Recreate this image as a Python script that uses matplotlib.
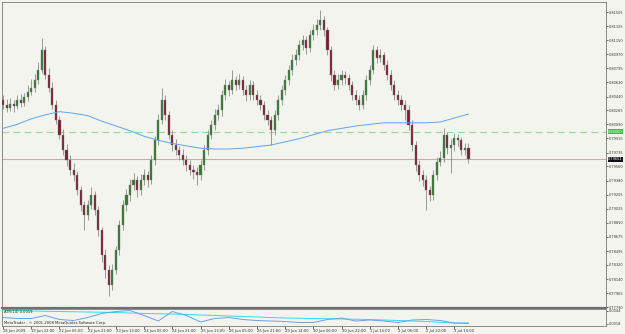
import matplotlib.pyplot as plt
import matplotlib.transforms as mtransforms

# hourly-ish candles (2h per bar)
opens = [0.8040, 0.8034, 0.8030, 0.8035, 0.8032, 0.8040, 0.8036, 0.8043, 0.8050, 0.8055,
         0.8065, 0.8078, 0.8103, 0.8071, 0.8055, 0.8034, 0.8015, 0.7996, 0.7977, 0.7964,
         0.7952, 0.7945, 0.7926, 0.7907, 0.7895, 0.7907, 0.7920, 0.7901, 0.7876, 0.7845,
         0.7826, 0.7807, 0.7826, 0.7851, 0.7882, 0.7907, 0.7920, 0.7933, 0.7939, 0.7926,
         0.7939, 0.7945, 0.7939, 0.7964, 0.7989, 0.8015, 0.8040, 0.8021, 0.7996, 0.7983,
         0.7977, 0.7971, 0.7964, 0.7958, 0.7952, 0.7949, 0.7945, 0.7958, 0.7977, 0.7996,
         0.8008, 0.8021, 0.8027, 0.8046, 0.8059, 0.8052, 0.8065, 0.8059, 0.8065, 0.8052,
         0.8046, 0.8059, 0.8046, 0.8040, 0.8034, 0.8021, 0.8015, 0.8002, 0.8021, 0.8040,
         0.8052, 0.8065, 0.8078, 0.8090, 0.8096, 0.8109, 0.8115, 0.8105, 0.8122, 0.8128,
         0.8134, 0.8140, 0.8128, 0.8103, 0.8071, 0.8059, 0.8065, 0.8071, 0.8067, 0.8059,
         0.8046, 0.8040, 0.8034, 0.8046, 0.8065, 0.8078, 0.8103, 0.8093, 0.8096, 0.8084,
         0.8071, 0.8059, 0.8046, 0.8040, 0.8034, 0.8027, 0.8008, 0.7983, 0.7958, 0.7945,
         0.7939, 0.7926, 0.7920, 0.7945, 0.7962, 0.7967, 0.7996, 0.7979, 0.7983, 0.7992,
         0.7989, 0.7977, 0.7979]
closes = [0.8034, 0.8030, 0.8035, 0.8032, 0.8040, 0.8036, 0.8043, 0.8050, 0.8055, 0.8065,
          0.8078, 0.8103, 0.8071, 0.8055, 0.8034, 0.8015, 0.7996, 0.7977, 0.7964, 0.7952,
          0.7945, 0.7926, 0.7907, 0.7895, 0.7907, 0.7920, 0.7901, 0.7876, 0.7845, 0.7826,
          0.7807, 0.7826, 0.7851, 0.7882, 0.7907, 0.7920, 0.7933, 0.7939, 0.7926, 0.7939,
          0.7945, 0.7939, 0.7964, 0.7989, 0.8015, 0.8040, 0.8021, 0.7996, 0.7983, 0.7977,
          0.7971, 0.7964, 0.7958, 0.7952, 0.7949, 0.7945, 0.7958, 0.7977, 0.7996, 0.8008,
          0.8021, 0.8027, 0.8046, 0.8059, 0.8052, 0.8065, 0.8059, 0.8065, 0.8052, 0.8046,
          0.8059, 0.8046, 0.8040, 0.8034, 0.8021, 0.8015, 0.8002, 0.8021, 0.8040, 0.8052,
          0.8065, 0.8078, 0.8090, 0.8096, 0.8109, 0.8115, 0.8105, 0.8122, 0.8128, 0.8134,
          0.8140, 0.8128, 0.8103, 0.8071, 0.8059, 0.8065, 0.8071, 0.8067, 0.8059, 0.8046,
          0.8040, 0.8034, 0.8046, 0.8065, 0.8078, 0.8103, 0.8093, 0.8096, 0.8084, 0.8071,
          0.8059, 0.8046, 0.8040, 0.8034, 0.8027, 0.8008, 0.7983, 0.7958, 0.7945, 0.7939,
          0.7926, 0.7920, 0.7945, 0.7962, 0.7967, 0.7996, 0.7979, 0.7983, 0.7992, 0.7989,
          0.7977, 0.7979, 0.7965]
highs = [0.8046, 0.8041, 0.8042, 0.8040, 0.8046, 0.8047, 0.8049, 0.8058, 0.8066, 0.8072,
         0.8088, 0.8118, 0.8108, 0.8080, 0.8062, 0.8040, 0.8020, 0.8003, 0.7984, 0.7970,
         0.7960, 0.7950, 0.7932, 0.7912, 0.7914, 0.7930, 0.7925, 0.7906, 0.7880, 0.7852,
         0.7832, 0.7833, 0.7856, 0.7888, 0.7914, 0.7928, 0.7940, 0.7948, 0.7944, 0.7946,
         0.7953, 0.7950, 0.7970, 0.7995, 0.8022, 0.8055, 0.8046, 0.8026, 0.8002, 0.7990,
         0.7982, 0.7978, 0.7970, 0.7964, 0.7958, 0.7955, 0.7964, 0.7983, 0.8002, 0.8015,
         0.8028, 0.8035, 0.8052, 0.8066, 0.8064, 0.8078, 0.8070, 0.8072, 0.8070, 0.8058,
         0.8065, 0.8063, 0.8052, 0.8046, 0.8039, 0.8027, 0.8020, 0.8027, 0.8046, 0.8059,
         0.8071, 0.8084, 0.8097, 0.8104, 0.8115, 0.8122, 0.8120, 0.8128, 0.8135, 0.8142,
         0.8153, 0.8146, 0.8132, 0.8108, 0.8077, 0.8072, 0.8078, 0.8076, 0.8073, 0.8064,
         0.8052, 0.8046, 0.8052, 0.8071, 0.8084, 0.8109, 0.8108, 0.8104, 0.8100, 0.8090,
         0.8077, 0.8065, 0.8052, 0.8046, 0.8040, 0.8033, 0.8014, 0.7988, 0.7964, 0.7952,
         0.7945, 0.7932, 0.7951, 0.7968, 0.7975, 0.8004, 0.8000, 0.7990, 0.7998, 0.7997,
         0.7993, 0.7985, 0.7986]
lows = [0.8028, 0.8024, 0.8026, 0.8025, 0.8029, 0.8031, 0.8032, 0.8039, 0.8046, 0.8050,
        0.8060, 0.8074, 0.8066, 0.8050, 0.8028, 0.8010, 0.7990, 0.7970, 0.7957, 0.7945,
        0.7938, 0.7920, 0.7900, 0.7876, 0.7889, 0.7902, 0.7895, 0.7868, 0.7836, 0.7815,
        0.7793, 0.7800, 0.7820, 0.7845, 0.7876, 0.7900, 0.7913, 0.7926, 0.7918, 0.7920,
        0.7933, 0.7930, 0.7934, 0.7958, 0.7983, 0.8010, 0.8015, 0.7990, 0.7976, 0.7970,
        0.7964, 0.7958, 0.7950, 0.7945, 0.7940, 0.7933, 0.7939, 0.7952, 0.7970, 0.7990,
        0.8002, 0.8015, 0.8020, 0.8040, 0.8045, 0.8047, 0.8052, 0.8053, 0.8046, 0.8039,
        0.8040, 0.8040, 0.8033, 0.8027, 0.8015, 0.8008, 0.7983, 0.7996, 0.8015, 0.8034,
        0.8046, 0.8059, 0.8071, 0.8084, 0.8090, 0.8103, 0.8098, 0.8100, 0.8115, 0.8122,
        0.8128, 0.8120, 0.8096, 0.8063, 0.8052, 0.8053, 0.8059, 0.8060, 0.8052, 0.8040,
        0.8033, 0.8027, 0.8028, 0.8040, 0.8059, 0.8072, 0.8086, 0.8087, 0.8077, 0.8065,
        0.8052, 0.8040, 0.8033, 0.8027, 0.8015, 0.8002, 0.7976, 0.7950, 0.7938, 0.7932,
        0.7901, 0.7912, 0.7914, 0.7939, 0.7956, 0.7962, 0.7972, 0.7948, 0.7976, 0.7982,
        0.7970, 0.7971, 0.7960]

# moving average, sampled every 4 bars
ma_bars = [0, 4, 8, 12, 16, 20, 24, 28, 32, 36, 40, 44, 48, 52, 56, 60, 64,
           68, 72, 76, 80, 84, 88, 92, 96, 100, 104, 108, 112, 116, 120, 124, 128, 132]
ma_vals = [0.8004, 0.8009, 0.8016, 0.8021, 0.8025, 0.8023, 0.8020, 0.8013, 0.8007, 0.8001,
           0.7994, 0.7989, 0.7985, 0.7982, 0.7979, 0.7978, 0.7978, 0.7979, 0.7981, 0.7983,
           0.7987, 0.7991, 0.7996, 0.8001, 0.8004, 0.8007, 0.8009, 0.8011, 0.8011, 0.8011,
           0.8011, 0.8012, 0.8017, 0.8022]

# ATR panel
atr_bars = ma_bars
atr_fast = [0.0030, 0.0028, 0.0028, 0.0034, 0.0026, 0.0024, 0.0030, 0.0038, 0.0042, 0.0044,
            0.0034, 0.0023, 0.0042, 0.0034, 0.0021, 0.0028, 0.0030, 0.0026, 0.0024, 0.0023,
            0.0022, 0.0020, 0.0020, 0.0026, 0.0029, 0.0023, 0.0025, 0.0023, 0.0020, 0.0025,
            0.0026, 0.0024, 0.0019, 0.0019]
atr_slow_bars = [0, 8, 16, 24, 32, 40, 48, 56, 64, 72, 80, 88, 96, 104, 112, 120, 128, 132]
atr_slow = [0.0045, 0.0043, 0.0042, 0.0041, 0.0040, 0.0038, 0.0037, 0.0035, 0.0033, 0.0031,
            0.0029, 0.0028, 0.0027, 0.0026, 0.0024, 0.0022, 0.0019, 0.0018]

price_ticks = [0.81505, 0.81325, 0.81150, 0.80970, 0.80795, 0.80620, 0.80440, 0.80265,
               0.80090, 0.79915, 0.79735, 0.79560, 0.79380, 0.79205, 0.79025, 0.78850,
               0.78675, 0.78495, 0.78320, 0.78140, 0.77965, 0.77790]
time_bars = [0, 8, 16, 24, 32, 40, 48, 56, 64, 72, 80, 88, 96, 104, 112, 120, 128]
time_labels = ['18 Jun 2009', '19 Jun 12:00', '22 Jun 05:00', '22 Jun 21:00', '23 Jun 13:00',
               '24 Jun 05:00', '24 Jun 21:00', '25 Jun 13:00', '26 Jun 05:00', '26 Jun 21:00',
               '29 Jun 14:00', '30 Jun 06:00', '30 Jun 22:00', '1 Jul 14:00', '2 Jul 06:00',
               '2 Jul 22:00', '3 Jul 14:00']
level_line = 0.80000
last_price = 0.79651

font = dict(family='DejaVu Sans', stretch='condensed', size=3.0)
rfont = dict(family='DejaVu Sans', stretch='condensed', size=2.8)

bg = '#f4f4ef'
fig = plt.figure(figsize=(6.25, 3.34), dpi=100, facecolor=bg)
ax = fig.add_axes([2 / 625, 1 - 308 / 334, 604 / 625, 306 / 334], facecolor=bg)
ax2 = fig.add_axes([2 / 625, 1 - 326 / 334, 604 / 625, 17 / 334], facecolor=bg, sharex=ax)

bars = list(range(len(closes)))
up_x = [i for i in bars if closes[i] >= opens[i]]
dn_x = [i for i in bars if closes[i] < opens[i]]

ax.vlines(bars, lows, highs, color='#8a8a8a', lw=0.6, zorder=2)
ax.bar(up_x, [closes[i] - opens[i] for i in up_x], bottom=[opens[i] for i in up_x],
       width=0.6, color='#2f7a2f', edgecolor='#7a7a7a', lw=0.3, zorder=3)
ax.bar(dn_x, [opens[i] - closes[i] for i in dn_x], bottom=[closes[i] for i in dn_x],
       width=0.6, color='#7a1c34', edgecolor='#7a7a7a', lw=0.3, zorder=3)

ax.plot(ma_bars, ma_vals, color='#5ea3f0', lw=0.7, zorder=4)
ax.axhline(level_line, color='#9ad89a', lw=0.8, dashes=(6, 4), zorder=1)
ax.axhline(last_price, color='#c9ada4', lw=0.8, zorder=1)

ax.set_xlim(-0.3, 171.0)
ax.set_ylim(0.77778, 0.81631)
ax.yaxis.tick_right()
ax.set_yticks(price_ticks)
ax.set_yticklabels(['%.5f' % v for v in price_ticks], fontdict=rfont)
ax.tick_params(axis='y', direction='out', length=1.5, width=0.5, pad=0.6, colors='#333333')
ax.tick_params(axis='x', bottom=False, labelbottom=False)
for s in ax.spines.values():
    s.set_color('#8a8a8a')
    s.set_linewidth(0.7)
ax.spines['bottom'].set_color('#707070')
ax.spines['bottom'].set_linewidth(1.6)

tr = mtransforms.blended_transform_factory(ax.transAxes, ax.transData)
ax.text(1.0035, level_line, '%.5f' % level_line, transform=tr, fontdict=rfont, color='white',
        va='center', ha='left', clip_on=False,
        bbox=dict(boxstyle='square,pad=0.15', fc='#33c633', ec='none'))
ax.text(1.0035, last_price, '%.5f' % last_price, transform=tr, fontdict=rfont, color='white',
        va='center', ha='left', clip_on=False,
        bbox=dict(boxstyle='square,pad=0.15', fc='#111111', ec='none'))

ax2.plot(atr_slow_bars, atr_slow, color='#25e0f2', lw=0.7)
ax2.plot(atr_bars, atr_fast, color='#6a9fec', lw=0.7)
ax2.set_ylim(0.0013, 0.0047)
ax2.yaxis.tick_right()
ax2.set_yticks([0.0044, 0.0018])
ax2.set_yticklabels(['0.0044', '0.0018'], fontdict=rfont)
ax2.tick_params(axis='y', direction='out', length=1.5, width=0.5, pad=0.6, colors='#333333')
ax2.set_xticks(time_bars)
ax2.set_xticklabels(time_labels, ha='left', fontdict=font)
ax2.tick_params(axis='x', direction='out', length=2, width=0.5, pad=0.5, colors='#333333')
for s in ax2.spines.values():
    s.set_color('#8a8a8a')
    s.set_linewidth(0.7)
ax2.text(0.004, 0.93, 'ATR(14) 0.0019', transform=ax2.transAxes, fontdict=font,
         color='#222222', va='top', ha='left')
ax2.text(0.004, 0.08, 'MetaTrader - \u00a9 2001-2008 MetaQuotes Software Corp.',
         transform=ax2.transAxes, fontdict=font, color='#222222', va='bottom', ha='left')

fig.savefig('out.png', dpi=100, facecolor=bg)
